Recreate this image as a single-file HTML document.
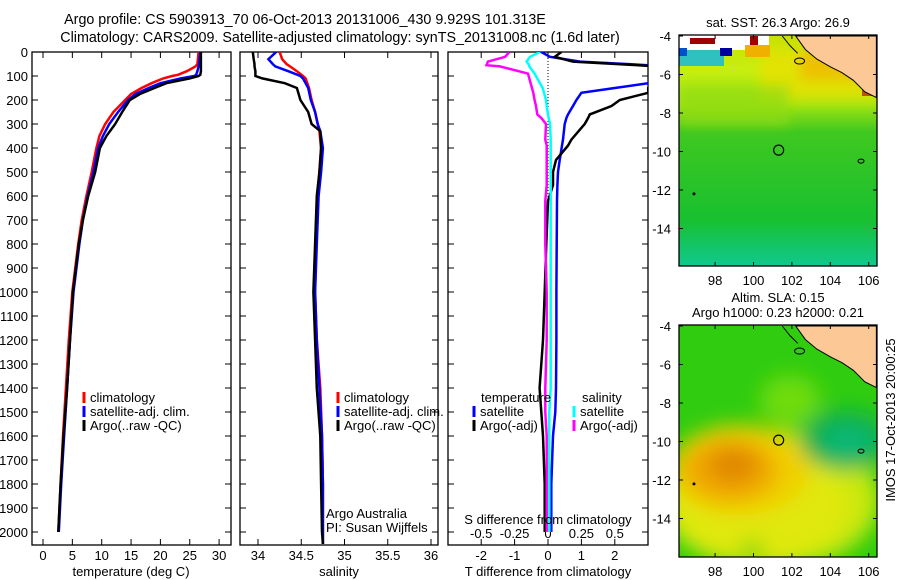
<!DOCTYPE html>
<html><head><meta charset="utf-8">
<style>
body{margin:0;background:#fff;}
svg{display:block;font-family:"Liberation Sans",sans-serif;}
</style></head>
<body>
<svg id="fig" width="900" height="580" viewBox="0 0 900 580" xmlns="http://www.w3.org/2000/svg">
<defs>
<filter id="blur1" x="-50%" y="-50%" width="200%" height="200%"><feGaussianBlur stdDeviation="10"/></filter>
<filter id="blur2" x="-50%" y="-50%" width="200%" height="200%"><feGaussianBlur stdDeviation="6"/></filter>
<clipPath id="clipM1"><rect x="679" y="35" width="198" height="231"/></clipPath>
<clipPath id="clipM2"><rect x="679" y="325" width="198" height="232"/></clipPath>
<linearGradient id="sstg" x1="0" y1="0" x2="0" y2="1">
<stop offset="0" stop-color="#c8e000"/><stop offset="0.15" stop-color="#c8ee10"/><stop offset="0.3" stop-color="#a0e410"/><stop offset="0.42" stop-color="#40c820"/><stop offset="0.8" stop-color="#18c030"/><stop offset="1" stop-color="#10c890"/></linearGradient>
</defs>
<text x="305" y="24" font-size="14.3" text-anchor="middle">Argo profile: CS 5903913_70 06-Oct-2013 20131006_430 9.929S 101.313E</text>
<text x="340" y="42" font-size="14.3" text-anchor="middle">Climatology: CARS2009. Satellite-adjusted climatology: synTS_20131008.nc (1.6d later)</text>
<g id="g"></g>
<text transform="translate(895,420) rotate(-90)" font-size="13" text-anchor="middle">IMOS 17-Oct-2013 20:00:25</text>
</svg>
<script>
// ---- data ----
const depthT=[0,50,60,80,95,100,110,130,150,175,200,250,300,350,400,500,600,700,800,1000,1200,1400,1600,1800,2000];
const tempArgo=[26.9,26.9,26.9,26.9,26.8,26.5,25,21,19,16.5,14.8,13.5,12.3,10.8,9.7,8.9,7.7,6.8,6.1,5.1,4.6,4.1,3.5,3.0,2.6];
const tempClim=[26.5,26.3,26,24.5,23,22,20.5,18.5,16.8,15,14,12,10.6,9.6,9.1,8.3,7.4,6.6,6.0,5.0,4.4,3.9,3.4,3.0,2.6];
const tempSat=[26.8,26.6,26.5,26.3,26.1,25.8,23.5,20,18,15.8,14.5,12.8,11.3,10.2,9.4,8.6,7.6,6.8,6.2,5.2,4.6,4.1,3.6,3.1,2.7];
const depthS=[0,30,50,60,80,100,110,130,150,200,250,300,330,400,500,600,800,1000,1200,1400,1600,1800,2000,2050];
const salArgo=[33.94,33.95,33.96,33.96,33.97,33.97,34.05,34.31,34.45,34.49,34.58,34.62,34.72,34.73,34.71,34.68,34.66,34.64,34.66,34.68,34.72,34.73,34.74,34.75];
const salClim=[34.25,34.28,34.33,34.37,34.45,34.52,34.55,34.57,34.59,34.62,34.66,34.69,34.71,34.73,34.71,34.69,34.67,34.66,34.68,34.72,34.74,34.75,34.75,34.75];
const salSat=[34.21,34.12,34.17,34.2,34.35,34.49,34.52,34.55,34.58,34.61,34.66,34.69,34.72,34.75,34.73,34.70,34.68,34.66,34.68,34.71,34.74,34.75,34.75,34.75];
const depthD=[0,20,40,55,60,90,130,150,170,200,225,260,275,300,365,390,450,500,555,620,800,1000,1200,1400,1500,1600,1800,2000];
const tdSat=[-0.2,0.06,0.96,3.0,3.2,3.2,3.0,2.0,1.0,0.85,0.75,0.6,0.55,0.5,0.45,0.42,0.35,0.3,0.28,0.27,0.26,0.25,0.25,0.24,0.22,0.15,0.1,0.1];
const tdArgo=[0.4,0.2,0.75,2.7,3.2,3.2,3.2,3.0,3.0,2.15,1.9,1.25,1.2,1.1,0.7,0.6,0.24,0.15,0.15,0,-0.05,-0.1,-0.15,-0.25,-0.2,-0.15,-0.1,-0.1];
const sdArgo=[-0.29,-0.32,-0.45,-0.46,-0.36,-0.15,-0.13,-0.12,-0.11,-0.1,-0.09,-0.08,-0.05,-0.015,-0.02,-0.01,-0.01,-0.01,-0.01,-0.02,-0.02,-0.01,-0.01,-0.02,-0.02,-0.01,-0.01,-0.01];
const sdSat=[-0.06,-0.135,-0.16,-0.14,-0.14,-0.1,-0.06,-0.04,-0.03,-0.015,-0.01,0,0.005,0.015,0.02,0.02,0.02,0.02,0.02,0.02,0.02,0.02,0.02,0.02,0.01,0.01,0.01,0.01];
const depthTicks=[0,100,200,300,400,500,600,700,800,900,1000,1100,1200,1300,1400,1500,1600,1700,1800,1900,2000];
const tempTicks=[0,5,10,15,20,25,30];
const salTicks=[34,34.5,35,35.5,36];
const tdTicks=[-2,-1,0,1,2];
const sdTicks=[-0.5,-0.25,0,0.25,0.5];
const lonTicks=[98,100,102,104,106];
const latTicks=[-4,-6,-8,-10,-12,-14];

// ---- helpers ----
const NS="http://www.w3.org/2000/svg";
const G=document.getElementById('g');
function mk(tag,attrs,parent){const e=document.createElementNS(NS,tag);for(const k in attrs)e.setAttribute(k,attrs[k]);(parent||G).appendChild(e);return e;}
function txt(s,x,y,anchor,size){const t=mk('text',{x:x,y:y,'font-size':size||13,'text-anchor':anchor||'start'});t.textContent=s;return t;}
const TOP=52,BOT=545;
const yD=d=>TOP+d*0.24;
const xT=v=>43+v*5.87;
const xS=v=>258+(v-34)*86.5;
const xTD=v=>548+v*33.4;
const xSD=v=>548+v*133.6;

function panel(x0,x1,name){const r=mk('rect',{x:x0,y:TOP,width:x1-x0,height:BOT-TOP,fill:'none',stroke:'#000','stroke-width':1.3});


depthTicks.forEach(d=>{mk('line',{x1:x0,x2:x0+6,y1:yD(d),y2:yD(d),stroke:'#000'});mk('line',{x1:x1,x2:x1-6,y1:yD(d),y2:yD(d),stroke:'#000'});});}
function xticks(ticks,fx,labelY){ticks.forEach(v=>{const x=fx(v);mk('line',{x1:x,x2:x,y1:BOT,y2:BOT-6,stroke:'#000'});mk('line',{x1:x,x2:x,y1:TOP,y2:TOP+6,stroke:'#000'});if(labelY){const t=txt(String(v),x,labelY,'middle');}});}
function line(xs,ds,fx,color,name,w){const pts=xs.map((v,i)=>{let x=fx(v);return x.toFixed(1)+','+yD(ds[i]).toFixed(1);}).join(' ');
const p=mk('polyline',{points:pts,fill:'none',stroke:color,'stroke-width':w||2.5,'clip-path':'url(#clipP)'});

}
function legend(items,x,y){items.forEach((it,i)=>{mk('line',{x1:x,x2:x,y1:y+i*14-10,y2:y+i*14+1,stroke:it[1],'stroke-width':3});const t=txt(it[0],x+6,y+i*14);});}

const defs=document.querySelector('defs');
const cp=mk('clipPath',{id:'clipP'},defs);
mk('rect',{x:32,y:TOP,width:199,height:BOT-TOP},cp);mk('rect',{x:240,y:TOP,width:198,height:BOT-TOP},cp);mk('rect',{x:448,y:TOP,width:200,height:BOT-TOP},cp);

depthTicks.forEach(d=>{const t=txt(String(d),28,yD(d)+5,'end');});

// panel 1 temperature
panel(32,231,'temperature-panel');
xticks(tempTicks,xT,560);
txt('temperature (deg C)',131,576,'middle');
line(tempClim,depthT,xT,'#f00','temp-climatology-line');
line(tempSat,depthT,xT,'#00f','temp-satellite-line');
line(tempArgo,depthT,xT,'#000','temp-argo-line');
legend([['climatology','#f00'],['satellite-adj. clim.','#00f'],['Argo(..raw -QC)','#000']],84,402);

// panel 2 salinity
panel(240,438,'salinity-panel');
xticks(salTicks,xS,560);
txt('salinity',339,576,'middle');
line(salClim,depthS,xS,'#f00','sal-climatology-line');
line(salSat,depthS,xS,'#00f','sal-satellite-line');
line(salArgo,depthS,xS,'#000','sal-argo-line');
legend([['climatology','#f00'],['satellite-adj. clim.','#00f'],['Argo(..raw -QC)','#000']],338,402);
txt('Argo Australia',326,518);txt('PI: Susan Wijffels',326,532);

// panel 3 differences
panel(448,648,'difference-panel');
xticks(tdTicks,xTD,560);
sdTicks.forEach(v=>{const t=txt(String(v),xSD(v),538,'middle');});
mk('line',{x1:548,x2:548,y1:TOP,y2:200,stroke:'#000','stroke-dasharray':'1,2'});
line(tdSat,depthD,xTD,'#00f','tdiff-satellite-line');
line(tdArgo,depthD,xTD,'#000','tdiff-argo-line');
line(sdSat,depthD,xSD,'#0ff','sdiff-satellite-line');
line(sdArgo,depthD,xSD,'#f0f','sdiff-argo-line');
txt('temperature',481,402);txt('salinity',582,402);
legend([['satellite','#00f'],['Argo(-adj)','#000']],474,416);
legend([['satellite','#0ff'],['Argo(-adj)','#f0f']],574,416);
txt('S difference from climatology',548,524,'middle');
txt('T difference from climatology',548,576,'middle');

// ---- maps ----
const xL=lon=>679+(lon-96.12)*19.2;
function mapFrame(y0,fy,clip,name){
 const h=(name=='sst-map'?231:232);
 const land=[[102.2,-4],[106.4,-4],[106.4,-7.2],[105.8,-6.9],[105.2,-6.3],[104.6,-5.9],[104,-5.6],[103.3,-5.2],[102.7,-4.7]];
 const lp=mk('polygon',{points:land.map(p=>xL(p[0])+','+fy(p[1])).join(' '),fill:'#fbc896',stroke:'#000','stroke-width':1,'clip-path':clip});
 
 
 mk('polyline',{points:[[101.5,-4],[101.9,-4.5],[102.3,-4.9]].map(p=>xL(p[0])+','+fy(p[1])).join(' '),fill:'none',stroke:'#000'});
 mk('ellipse',{cx:xL(102.4),cy:fy(-5.3),rx:5,ry:3,fill:'none',stroke:'#000'});
 mk('ellipse',{cx:xL(105.6),cy:fy(-10.5),rx:3,ry:2,fill:'none',stroke:'#000'});
 mk('circle',{cx:xL(96.9),cy:fy(-12.2),r:1.5,fill:'#000'});
 const r=mk('rect',{x:679,y:y0,width:198,height:h,fill:'none',stroke:'#000','stroke-width':1.3});
 
 
 lonTicks.forEach(l=>{const x=xL(l);mk('line',{x1:x,x2:x,y1:y0,y2:y0+4,stroke:'#000'});const b=y0+h;mk('line',{x1:x,x2:x,y1:b,y2:b-4,stroke:'#000'});txt(String(l),x,b+19,'middle');});
 latTicks.forEach(l=>{const y=fy(l);mk('line',{x1:679,x2:683,y1:y,y2:y,stroke:'#000'});mk('line',{x1:877,x2:873,y1:y,y2:y,stroke:'#000'});txt(String(l),671,y+5,'end');});
}
const yM1=lat=>36+(-4-lat)*19.25;
const yM2=lat=>326+(-4-lat)*19.25;
// map 1 SST
txt('sat. SST: 26.3 Argo: 26.9',778,27,'middle');
mk('rect',{x:679,y:35,width:198,height:231,fill:'url(#sstg)'});
const g1=mk('g',{'clip-path':'url(#clipM1)'});
const b1=mk('g',{filter:'url(#blur2)'},g1);
mk('rect',{x:760,y:50,width:120,height:50,fill:'#e8e000',opacity:0.8},b1);
mk('rect',{x:800,y:50,width:80,height:30,fill:'#f0b800',opacity:0.8},b1);
mk('rect',{x:679,y:85,width:110,height:40,fill:'#90dc10',opacity:0.7},b1);
mk('rect',{x:679,y:35,width:90,height:15,fill:'#fff'},g1);
mk('rect',{x:690,y:38,width:25,height:6,fill:'#a00000'},g1);mk('rect',{x:750,y:36,width:8,height:10,fill:'#a00000'},g1);
mk('rect',{x:679,y:50,width:45,height:16,fill:'#30c0c0'},g1);mk('rect',{x:720,y:48,width:12,height:8,fill:'#0000a0'},g1);
mk('rect',{x:679,y:48,width:8,height:8,fill:'#0050d0'},g1);mk('rect',{x:745,y:45,width:25,height:12,fill:'#f0b000'},g1);
mk('rect',{x:862,y:36,width:15,height:60,fill:'#c05000'},g1);
mapFrame(35,yM1,'url(#clipM1)','sst-map');
mk('circle',{cx:xL(101.31),cy:yM1(-9.93),r:5,fill:'none',stroke:'#000','stroke-width':1.2});
// map 2 SLA
txt('Altim. SLA: 0.15',778,302,'middle');txt('Argo h1000: 0.23 h2000: 0.21',778,317,'middle');
mk('rect',{x:679,y:325,width:198,height:232,fill:'#30cc10'});
const gb=mk('g',{'clip-path':'url(#clipM2)'});
const bl=mk('g',{filter:'url(#blur1)'},gb);
mk('ellipse',{cx:790,cy:400,rx:30,ry:25,fill:'#70dc10'},bl);
mk('ellipse',{cx:770,cy:500,rx:110,ry:70,fill:'#c8e810'},bl);
mk('ellipse',{cx:760,cy:505,rx:90,ry:55,fill:'#e0e810'},bl);
mk('ellipse',{cx:740,cy:470,rx:70,ry:45,fill:'#f0d000'},bl);
mk('ellipse',{cx:730,cy:470,rx:48,ry:32,fill:'#f0a800'},bl);
mk('ellipse',{cx:733,cy:465,rx:25,ry:18,fill:'#e08800'},bl);
mk('ellipse',{cx:845,cy:440,rx:45,ry:30,fill:'#10b050'},bl);
mk('ellipse',{cx:848,cy:442,rx:25,ry:15,fill:'#10b878'},bl);
mk('ellipse',{cx:752,cy:550,rx:12,ry:8,fill:'#60d010'},bl);
mapFrame(325,yM2,'url(#clipM2)','sla-map');
mk('circle',{cx:xL(101.31),cy:yM2(-9.93),r:5,fill:'none',stroke:'#000','stroke-width':1.2});
</script>
</body></html>
